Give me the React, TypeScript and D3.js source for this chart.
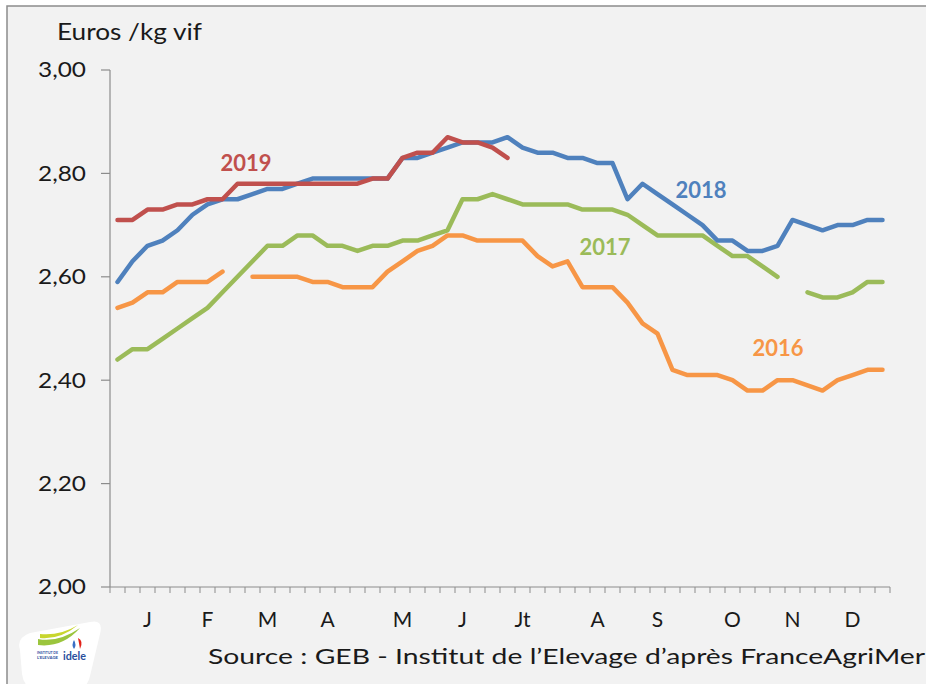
import React from 'react';
import * as d3 from 'd3';

// weekly prices, euros / kg vif (null = no quotation)
const weeks = d3.range(52);
const monthLabels = ['J', 'F', 'M', 'A', 'M', 'J', 'Jt', 'A', 'S', 'O', 'N', 'D'];
const monthWeeks = [2, 6, 10, 14, 19, 23, 27, 32, 36, 41, 45, 49];
const yTicks = [2.0, 2.2, 2.4, 2.6, 2.8, 3.0];

const y2016 = [
  2.54, 2.55, 2.57, 2.57, 2.59, 2.59, 2.59, 2.61, null, 2.6, 2.6, 2.6, 2.6, 2.59, 2.59, 2.58, 2.58, 2.58, 2.61,
  2.63, 2.65, 2.66, 2.68, 2.68, 2.67, 2.67, 2.67, 2.67, 2.64, 2.62, 2.63, 2.58, 2.58, 2.58, 2.55, 2.51, 2.49,
  2.42, 2.41, 2.41, 2.41, 2.4, 2.38, 2.38, 2.4, 2.4, 2.39, 2.38, 2.4, 2.41, 2.42, 2.42
];
const y2017 = [
  2.44, 2.46, 2.46, 2.48, 2.5, 2.52, 2.54, 2.57, 2.6, 2.63, 2.66, 2.66, 2.68, 2.68, 2.66, 2.66, 2.65, 2.66, 2.66,
  2.67, 2.67, 2.68, 2.69, 2.75, 2.75, 2.76, 2.75, 2.74, 2.74, 2.74, 2.74, 2.73, 2.73, 2.73, 2.72, 2.7, 2.68,
  2.68, 2.68, 2.68, 2.66, 2.64, 2.64, 2.62, 2.6, null, 2.57, 2.56, 2.56, 2.57, 2.59, 2.59
];
const y2018 = [
  2.59, 2.63, 2.66, 2.67, 2.69, 2.72, 2.74, 2.75, 2.75, 2.76, 2.77, 2.77, 2.78, 2.79, 2.79, 2.79, 2.79, 2.79,
  2.79, 2.83, 2.83, 2.84, 2.85, 2.86, 2.86, 2.86, 2.87, 2.85, 2.84, 2.84, 2.83, 2.83, 2.82, 2.82, 2.75, 2.78,
  2.76, 2.74, 2.72, 2.7, 2.67, 2.67, 2.65, 2.65, 2.66, 2.71, 2.7, 2.69, 2.7, 2.7, 2.71, 2.71
];
const y2019 = [
  2.71, 2.71, 2.73, 2.73, 2.74, 2.74, 2.75, 2.75, 2.78, 2.78, 2.78, 2.78, 2.78, 2.78, 2.78, 2.78, 2.78, 2.79,
  2.79, 2.83, 2.84, 2.84, 2.87, 2.86, 2.86, 2.85, 2.83
];

const series = [
  { name: '2016', values: y2016, color: '#f79646', lx: 778, ly: 348 },
  { name: '2017', values: y2017, color: '#9bbb59', lx: 605, ly: 247 },
  { name: '2018', values: y2018, color: '#4f81bd', lx: 701, ly: 190 },
  { name: '2019', values: y2019, color: '#c0504d', lx: 246, ly: 163 }
];

const font = 'Lato, "Open Sans", sans-serif';

const App = () => {
  const width = 926,
    height = 684;
  const x = d3.scaleBand<number>().domain(weeks).range([110, 890]);
  const y = d3.scaleLinear().domain([2, 3]).range([587, 70]);
  const bw = x.bandwidth();

  const line = d3
    .line<number | null>()
    .defined(d => d != null)
    .x((d, i) => (x(i) as number) + bw / 2)
    .y(d => y(d as number));

  return (
    <svg width={width} height={height} style={{ position: 'absolute', left: 0, top: 0 }} fontFamily={font}>
      <rect x={0} y={0} width={width} height={height} fill="#ffffff" />
      <rect x={7} y={6} width={width + 10} height={height + 10} fill="#f2f2f2" stroke="#8c8c8c" strokeWidth={1.5} />

      <text x={57} y={40} fontSize={23} fill="#1a1a1a" textLength={145} lengthAdjust="spacingAndGlyphs">
        Euros /kg vif
      </text>

      {/* y axis */}
      <line x1={110} x2={110} y1={y(3)} y2={y(2)} stroke="#8c8c8c" strokeWidth={1.2} />
      {yTicks.map(t => (
        <g key={t}>
          <line x1={101} x2={110} y1={y(t)} y2={y(t)} stroke="#8c8c8c" strokeWidth={1.2} />
          <text
            x={86}
            y={y(t)}
            dy="0.35em"
            textAnchor="end"
            fontSize={21}
            fill="#1a1a1a"
            textLength={48}
            lengthAdjust="spacingAndGlyphs"
          >
            {t.toFixed(2).replace('.', ',')}
          </text>
        </g>
      ))}

      {/* x axis */}
      <line x1={110} x2={890} y1={y(2)} y2={y(2)} stroke="#8c8c8c" strokeWidth={1.2} />
      {d3.range(53).map(i => (
        <line key={i} x1={110 + i * bw} x2={110 + i * bw} y1={y(2)} y2={y(2) + 6} stroke="#8c8c8c" strokeWidth={1} />
      ))}
      {monthLabels.map((m, i) => (
        <text
          key={i}
          x={(x(monthWeeks[i]) as number) + bw / 2}
          y={620}
          dy="0.35em"
          textAnchor="middle"
          fontSize={21}
          fill="#1a1a1a"
        >
          {m}
        </text>
      ))}

      {series.map(s => (
        <path
          key={s.name}
          d={line(s.values) || ''}
          fill="none"
          stroke={s.color}
          strokeWidth={4.5}
          strokeLinejoin="round"
          strokeLinecap="round"
        />
      ))}
      {series.map(s => (
        <text
          key={s.name}
          x={s.lx}
          y={s.ly}
          dy="0.35em"
          textAnchor="middle"
          fontSize={22}
          fontWeight="bold"
          fill={s.color}
        >
          {s.name}
        </text>
      ))}

      {/* logo */}
      <g>
        <path
          d="M20,650 Q16,638 30,633 L90,622 Q104,619 100,634 L90,676 Q87,690 74,690 L36,690 Q24,688 22,674 Z"
          fill="#ffffff"
        />
        <path d="M38,639 Q58,643 80,628 Q62,648 38,645 Z" fill="#9bc53d" />
        <path d="M40,634 Q60,636 78,625 Q60,640 40,638 Z" fill="#c8d62e" />
        <path d="M74,640 Q77,645 74,649 Q71,645 74,640 Z" fill="#3a6fc4" />
        <path d="M78,638 Q84,641 80,649 Q79,643 78,638 Z" fill="#e2231a" />
        <text x={37} y={654} fontSize={4} fontWeight="bold" fill="#2a4f9e" textLength={21} lengthAdjust="spacingAndGlyphs">
          INSTITUT DE
        </text>
        <text x={37} y={659} fontSize={4} fontWeight="bold" fill="#2a4f9e" textLength={21} lengthAdjust="spacingAndGlyphs">
          L'ELEVAGE
        </text>
        <text x={63} y={660} fontSize={11} fontWeight="bold" fill="#2a4f9e" textLength={23} lengthAdjust="spacingAndGlyphs">
          idele
        </text>
      </g>

      <text x={208} y={664} fontSize={22} fill="#1a1a1a" textLength={717} lengthAdjust="spacingAndGlyphs">
        Source : GEB - Institut de l’Elevage d’après FranceAgriMer
      </text>
    </svg>
  );
};

export default App;
